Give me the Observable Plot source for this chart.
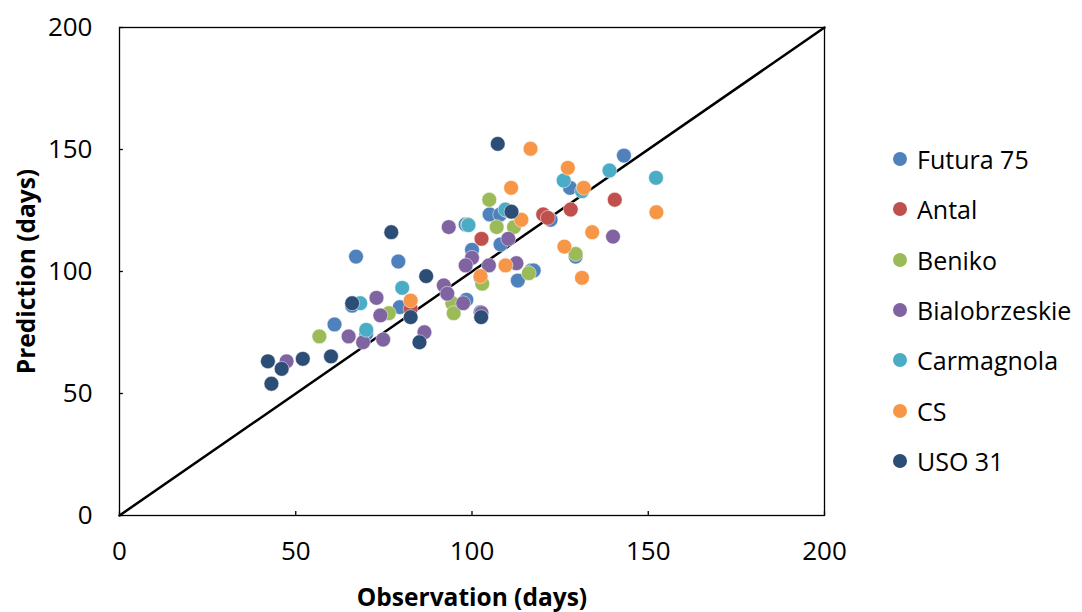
<!DOCTYPE html>
<html>
<head>
<meta charset="utf-8">
<script src="https://cdn.jsdelivr.net/npm/d3@7"></script>
<script src="https://cdn.jsdelivr.net/npm/@observablehq/plot@0.6"></script>
<style>
  html, body { margin: 0; padding: 0; background: #fff; }
  #wrap { position: relative; width: 1082px; height: 612px; font-family: "Open Sans", "Liberation Sans", sans-serif; }
  #legend { position: absolute; left: 893px; top: 134px; }
  .item { display: flex; align-items: center; height: 50.3px; font-size: 25px; color: #000; }
  .sw { width: 14px; height: 14px; border-radius: 50%; margin-right: 10px; }
</style>
</head>
<body>
<div id="wrap"><div id="chart"></div><div id="legend"></div></div>
<script>
const series = ["Futura 75", "Antal", "Beniko", "Bialobrzeskie", "Carmagnola", "CS", "USO 31"];
const colors = ["#4F81BD", "#C0504D", "#9BBB59", "#8064A2", "#4BACC6", "#F79646", "#2C4D75"];

const futuraX = [143.1, 127.8, 105, 108, 122.3, 98.2, 108.1, 100, 129.4, 116.8, 113, 102.4, 98.4, 102.4, 79.5, 67.1, 79.1, 61, 66, 70, 117.5, 110];
const futuraY = [147.5, 134.3, 123.4, 123.4, 121.2, 119.3, 111.1, 108.9, 106.1, 100.4, 96.3, 97.5, 88.4, 83.3, 85.4, 106.1, 104.1, 78.3, 86, 74.5, 100.4, 125];
const antalX = [140.5, 128, 120.2, 121.5, 102.7, 82.6];
const antalY = [129.4, 125.4, 123.4, 122, 113.4, 84.7];
const benikoX = [104.9, 98.9, 107, 111.9, 129.4, 116.1, 102.9, 94.4, 94.8, 76.4, 56.7];
const benikoY = [129.4, 119.3, 118.2, 118.2, 107.2, 99.3, 95, 87, 82.9, 82.9, 73.4];
const bialoX = [93.4, 110.3, 140, 100, 98.2, 104.8, 112.6, 92, 93, 97.5, 102.7, 86.5, 72.9, 74, 65, 69.1, 74.8, 47.4];
const bialoY = [118.2, 113.4, 114.3, 105.6, 102.5, 102.5, 103.4, 94.3, 90.9, 87, 83, 75.1, 89.2, 82, 73.4, 71, 72.1, 63.2];
const carmX = [139, 152.2, 126, 131.2, 109.5, 80.2, 68.3, 70, 99];
const carmY = [141.4, 138.4, 137.3, 132.9, 125.4, 93.3, 87, 76.1, 119];
const csX = [116.6, 127.2, 131.7, 111.1, 114, 152.3, 134.1, 126.2, 131.2, 109.5, 102.4, 82.6];
const csY = [150.3, 142.5, 134.3, 134.3, 121.2, 124.3, 116.1, 110.2, 97.4, 102.5, 98.1, 88.1];
const usoX = [107.3, 111.2, 77.1, 87, 102.6, 82.6, 85.1, 66, 60, 52, 42.1, 46, 43.1];
const usoY = [152.3, 124.5, 116.1, 98.1, 81.3, 81.3, 71, 87, 65.2, 64.2, 63.2, 60.1, 54];

const xTicks = [0, 50, 100, 150, 200];
const yTicks = [0, 50, 100, 150, 200];

const allX = [futuraX, antalX, benikoX, bialoX, carmX, csX, usoX];
const allY = [futuraY, antalY, benikoY, bialoY, carmY, csY, usoY];
const data = [];
series.forEach((s, i) => allX[i].forEach((x, j) => data.push({series: s, x, y: allY[i][j]})));

const font = '"Open Sans", "Liberation Sans", sans-serif';
const chart = Plot.plot({
  width: 850,
  height: 612,
  marginLeft: 119,
  marginRight: 26,
  marginTop: 27,
  marginBottom: 97,
  style: {fontFamily: font, fontSize: "26px", color: "#000", background: "#fff"},
  x: {domain: [0, 200], ticks: xTicks, tickSize: 0, label: null},
  y: {domain: [0, 200], ticks: yTicks, tickSize: 0, label: null},
  color: {domain: series, range: colors},
  marks: [
    Plot.line([[0, 0], [200, 200]], {stroke: "#000", strokeWidth: 2.5}),
    Plot.dot(data, {x: "x", y: "y", fill: "series", r: 7.4, stroke: "#fff", strokeWidth: 0.5}),
    Plot.ruleX(xTicks, {y1: 0, y2: 1.6, stroke: "#000", strokeWidth: 1.3}),
    Plot.ruleY(yTicks, {x1: 0, x2: 1.1, stroke: "#000", strokeWidth: 1.3}),
    Plot.frame({stroke: "#000", strokeWidth: 1.3}),
    Plot.axisX({ticks: xTicks, tickSize: 0, tickPadding: 26, label: "Observation (days)", labelAnchor: "center", labelArrow: "none", labelOffset: 90, fontSize: 26}),
    Plot.axisY({ticks: yTicks, tickSize: 0, tickPadding: 27, label: "Prediction (days)", labelAnchor: "center", labelArrow: "none", labelOffset: 102, fontSize: 26})
  ]
});
d3.select(chart).selectAll("[aria-label='x-axis label'] text, [aria-label='y-axis label'] text")
  .style("font-weight", "bold").style("font-size", "24.5px");
document.getElementById("chart").appendChild(chart);

const legend = document.getElementById("legend");
series.forEach((s, i) => {
  const it = document.createElement("div");
  it.className = "item";
  it.innerHTML = `<span class="sw" style="background:${colors[i]}"></span><span>${s}</span>`;
  legend.appendChild(it);
});
</script>
</body>
</html>
